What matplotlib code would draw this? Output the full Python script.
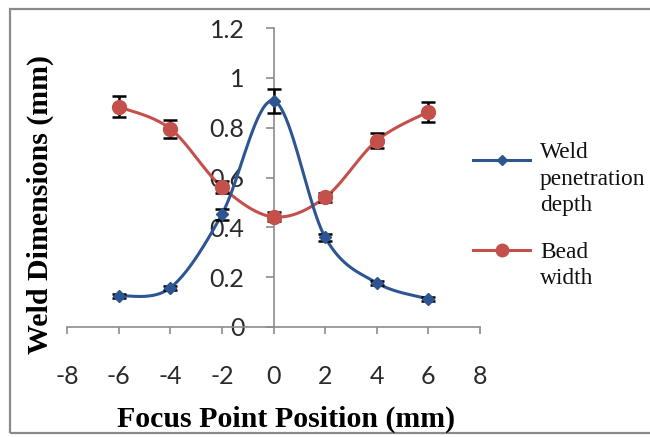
import numpy as np
import matplotlib
matplotlib.use("Agg")
import matplotlib.pyplot as plt
from matplotlib.patches import Rectangle
from matplotlib.lines import Line2D

positions = [-6, -4, -2, 0, 2, 4, 6]
penetration = [0.125, 0.157, 0.452, 0.908, 0.360, 0.177, 0.113]
penetration_err = [0.008, 0.008, 0.022, 0.048, 0.015, 0.008, 0.008]
bead_width = [0.884, 0.796, 0.562, 0.442, 0.520, 0.748, 0.864]
bead_err = [0.043, 0.036, 0.025, 0.018, 0.018, 0.030, 0.040]
x_ticks = [-8, -6, -4, -2, 0, 2, 4, 6, 8]
y_ticks = [0, 0.2, 0.4, 0.6, 0.8, 1.0, 1.2]
y_tick_labels = ["0", "0.2", "0.4", "0.6", "0.8", "1", "1.2"]
series_names = ["Weld\npenetration\ndepth", "Bead\nwidth"]

W, H = 650, 437
fig = plt.figure(figsize=(W / 100, H / 100), dpi=100)
fig.patches.append(Rectangle((10 / W, 4 / H), 1, (433 - 9) / H,
                             transform=fig.transFigure, fill=False,
                             edgecolor="#8a8a8a", linewidth=1.6))

ax = fig.add_axes([67 / W, 1 - 327 / H, (480 - 67) / W, (327 - 28) / H])
ax.set_xlim(-8, 8)
ax.set_ylim(0, 1.2)

sx, sy = 25.8, 250.0


def smooth(xs, ys, n=40):
    px = np.array(xs, float) * sx
    py = np.array(ys, float) * sy
    P = np.column_stack([px, py])
    P = np.vstack([P[0], P, P[-1]])
    out = []
    t = np.linspace(0, 1, n)[:, None]
    for i in range(1, len(P) - 2):
        p0, p1, p2, p3 = P[i - 1], P[i], P[i + 1], P[i + 2]
        c1 = p1 + (p2 - p0) / 6
        c2 = p2 - (p3 - p1) / 6
        seg = ((1 - t) ** 3) * p1 + 3 * ((1 - t) ** 2) * t * c1 + 3 * (1 - t) * t ** 2 * c2 + t ** 3 * p2
        out.append(seg)
    out = np.vstack(out)
    return out[:, 0] / sx, out[:, 1] / sy


blue = "#2C5592"
red = "#C4504C"

bx, by = smooth(positions, bead_width)
ax.plot(bx, by, color=red, lw=2.2, zorder=2)
ax.errorbar(positions, bead_width, yerr=bead_err, fmt="none", ecolor="black",
            elinewidth=1.8, capsize=5, capthick=1.8, zorder=3)
ax.plot(positions, bead_width, "o", color=red, ms=10, zorder=4)

px_, py_ = smooth(positions, penetration)
ax.plot(px_, py_, color=blue, lw=2.2, zorder=2)
ax.errorbar(positions, penetration, yerr=penetration_err, fmt="none", ecolor="black",
            elinewidth=1.8, capsize=5, capthick=1.8, zorder=3)
ax.plot(positions, penetration, "D", color=blue, ms=6.5, zorder=4)

for s in ["top", "right"]:
    ax.spines[s].set_visible(False)
ax.spines["left"].set_position(("data", 0))
for s in ["left", "bottom"]:
    ax.spines[s].set_color("#8c8c8c")
    ax.spines[s].set_linewidth(1.2)

ax.set_xticks(x_ticks)
ax.set_xticklabels([str(v) for v in x_ticks])
ax.set_yticks(y_ticks)
ax.set_yticklabels(y_tick_labels)
ax.tick_params(axis="both", colors="#8c8c8c", width=1.2,
               labelsize=18, labelcolor="#2a2a2a")
ax.tick_params(axis="x", length=5, pad=22)
ax.tick_params(axis="y", length=6, pad=15)
for lab in ax.get_xticklabels() + ax.get_yticklabels():
    lab.set_fontfamily("Lato")

fig.text(286 / W, 1 - 419 / H, "Focus Point Position (mm)", ha="center", va="center",
         fontsize=21.5, fontweight="bold", family="Liberation Serif")
fig.text(40 / W, 1 - 204 / H, "Weld Dimensions (mm)", ha="center", va="center",
         rotation=90, fontsize=21.5, fontweight="bold", family="Liberation Serif")

# legend (drawn by hand to match layout)
legend_items = [
    (blue, "D", 5, series_names[0], 160, 158),
    (red, "o", 9, series_names[1], 250, 258),
]
for color, mk, ms, name, ly, base in legend_items:
    fig.add_artist(Line2D([473 / W, 530 / W], [1 - ly / H, 1 - ly / H],
                          transform=fig.transFigure, color=color, lw=2.2))
    fig.add_artist(Line2D([501.5 / W], [1 - ly / H], transform=fig.transFigure,
                          color=color, marker=mk, ms=ms, lw=0))
    for k, line in enumerate(name.split("\n")):
        fig.text(540 / W, 1 - (base + 26.5 * k) / H, line, ha="left", va="baseline",
                 fontsize=16.8, family="Liberation Serif", color="#111111")

fig.savefig("out.png", dpi=100)
